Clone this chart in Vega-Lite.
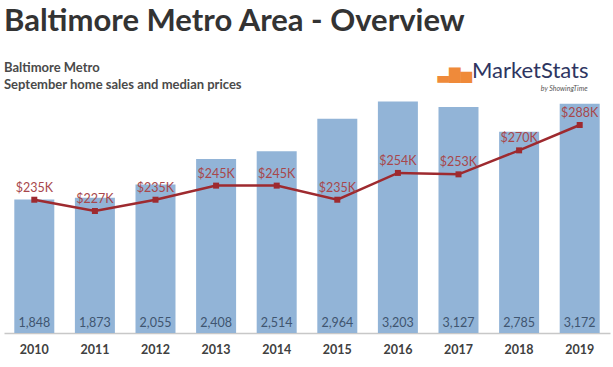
{
  "$schema": "https://vega.github.io/schema/vega-lite/v6.json",
  "autosize": "none",
  "width": 606,
  "height": 232,
  "padding": {"left": 4, "top": 101, "right": 3, "bottom": 34},
  "background": "white",
  "config": {"view": {"stroke": null}, "font": "Lato"},
  "title": {
    "text": "Baltimore Metro Area - Overview",
    "subtitle": ["Baltimore Metro", "September home sales and median prices"],
    "anchor": "start",
    "frame": "group",
    "font": "Lato",
    "fontSize": 31,
    "fontWeight": "bold",
    "color": "#333333",
    "subtitleFont": "Lato",
    "subtitleFontSize": 13,
    "subtitleFontWeight": "bold",
    "subtitleColor": "#4a4a4a",
    "subtitleLineHeight": 17,
    "subtitlePadding": 24,
    "offset": -34
  },
  "data": {
    "values": [
      {"year": "2010", "sales": 1848, "price": 235, "priceLabel": "$235K"},
      {"year": "2011", "sales": 1873, "price": 227, "priceLabel": "$227K"},
      {"year": "2012", "sales": 2055, "price": 235, "priceLabel": "$235K"},
      {"year": "2013", "sales": 2408, "price": 245, "priceLabel": "$245K"},
      {"year": "2014", "sales": 2514, "price": 245, "priceLabel": "$245K"},
      {"year": "2015", "sales": 2964, "price": 235, "priceLabel": "$235K"},
      {"year": "2016", "sales": 3203, "price": 254, "priceLabel": "$254K"},
      {"year": "2017", "sales": 3127, "price": 253, "priceLabel": "$253K"},
      {"year": "2018", "sales": 2785, "price": 270, "priceLabel": "$270K"},
      {"year": "2019", "sales": 3172, "price": 288, "priceLabel": "$288K"}
    ]
  },
  "encoding": {
    "x": {
      "field": "year",
      "type": "nominal",
      "sort": null,
      "scale": {"paddingInner": 0.34, "paddingOuter": 0.17},
      "axis": {
        "title": "▃▇▅",
        "titleColor": "#ef8a3a",
        "titleFont": "DejaVu Sans",
        "titleFontSize": 15,
        "titleFontWeight": "normal",
        "titleAngle": 0,
        "titleAlign": "left",
        "titleBaseline": "alphabetic",
        "titleX": 433,
        "titleY": -255,
        "labelAngle": 0,
        "labelFont": "Lato",
        "labelFontSize": 12.5,
        "labelFontWeight": "bold",
        "labelColor": "#404040",
        "labelPadding": 10,
        "ticks": false,
        "domainColor": "#c8c8c8",
        "domainWidth": 1.5,
        "grid": false
      }
    }
  },
  "layer": [
    {
      "layer": [
        {
          "mark": {"type": "bar", "color": "#92b4d7"},
          "encoding": {
            "y": {
              "field": "sales",
              "type": "quantitative",
              "scale": {"domain": [0, 3210], "nice": false},
              "axis": {
                "labels": false,
                "ticks": false,
                "domain": false,
                "grid": false,
                "title": "by ShowingTime",
                "titleAngle": 0,
                "titleAlign": "right",
                "titleBaseline": "alphabetic",
                "titleX": 583,
                "titleY": -11,
                "titleFont": "Lato",
                "titleFontSize": 7,
                "titleFontStyle": "italic",
                "titleFontWeight": "normal",
                "titleColor": "#555555"
              }
            }
          }
        },
        {
          "mark": {"type": "text", "baseline": "alphabetic", "dy": -6, "fontSize": 12.5, "font": "Lato", "color": "#3f5570"},
          "encoding": {
            "y": {"datum": 0, "type": "quantitative"},
            "text": {"field": "sales", "type": "quantitative", "format": ","}
          }
        }
      ]
    },
    {
      "layer": [
        {
          "mark": {"type": "line", "color": "#9e2a2f", "strokeWidth": 2.5},
          "encoding": {
            "y": {
              "field": "price",
              "type": "quantitative",
              "scale": {"domain": [140.5, 305], "nice": false, "zero": false},
              "axis": {
                "orient": "right",
                "labels": false,
                "ticks": false,
                "domain": false,
                "grid": false,
                "title": "MarketStats",
                "titleAngle": 0,
                "titleAlign": "right",
                "titleBaseline": "alphabetic",
                "titleX": -22,
                "titleY": -24,
                "titleFont": "Lato",
                "titleFontSize": 22,
                "titleFontWeight": "normal",
                "titleColor": "#2e3561"
              }
            }
          }
        },
        {
          "mark": {"type": "point", "shape": "square", "filled": true, "size": 36, "opacity": 1, "color": "#9e2a2f"},
          "encoding": {"y": {"field": "price", "type": "quantitative"}}
        },
        {
          "mark": {"type": "text", "baseline": "middle", "dy": -12, "fontSize": 12.5, "font": "Lato", "color": "#a8474b"},
          "encoding": {
            "y": {"field": "price", "type": "quantitative"},
            "text": {"field": "priceLabel", "type": "nominal"}
          }
        }
      ]
    }
  ],
  "resolve": {"scale": {"y": "independent"}}
}
